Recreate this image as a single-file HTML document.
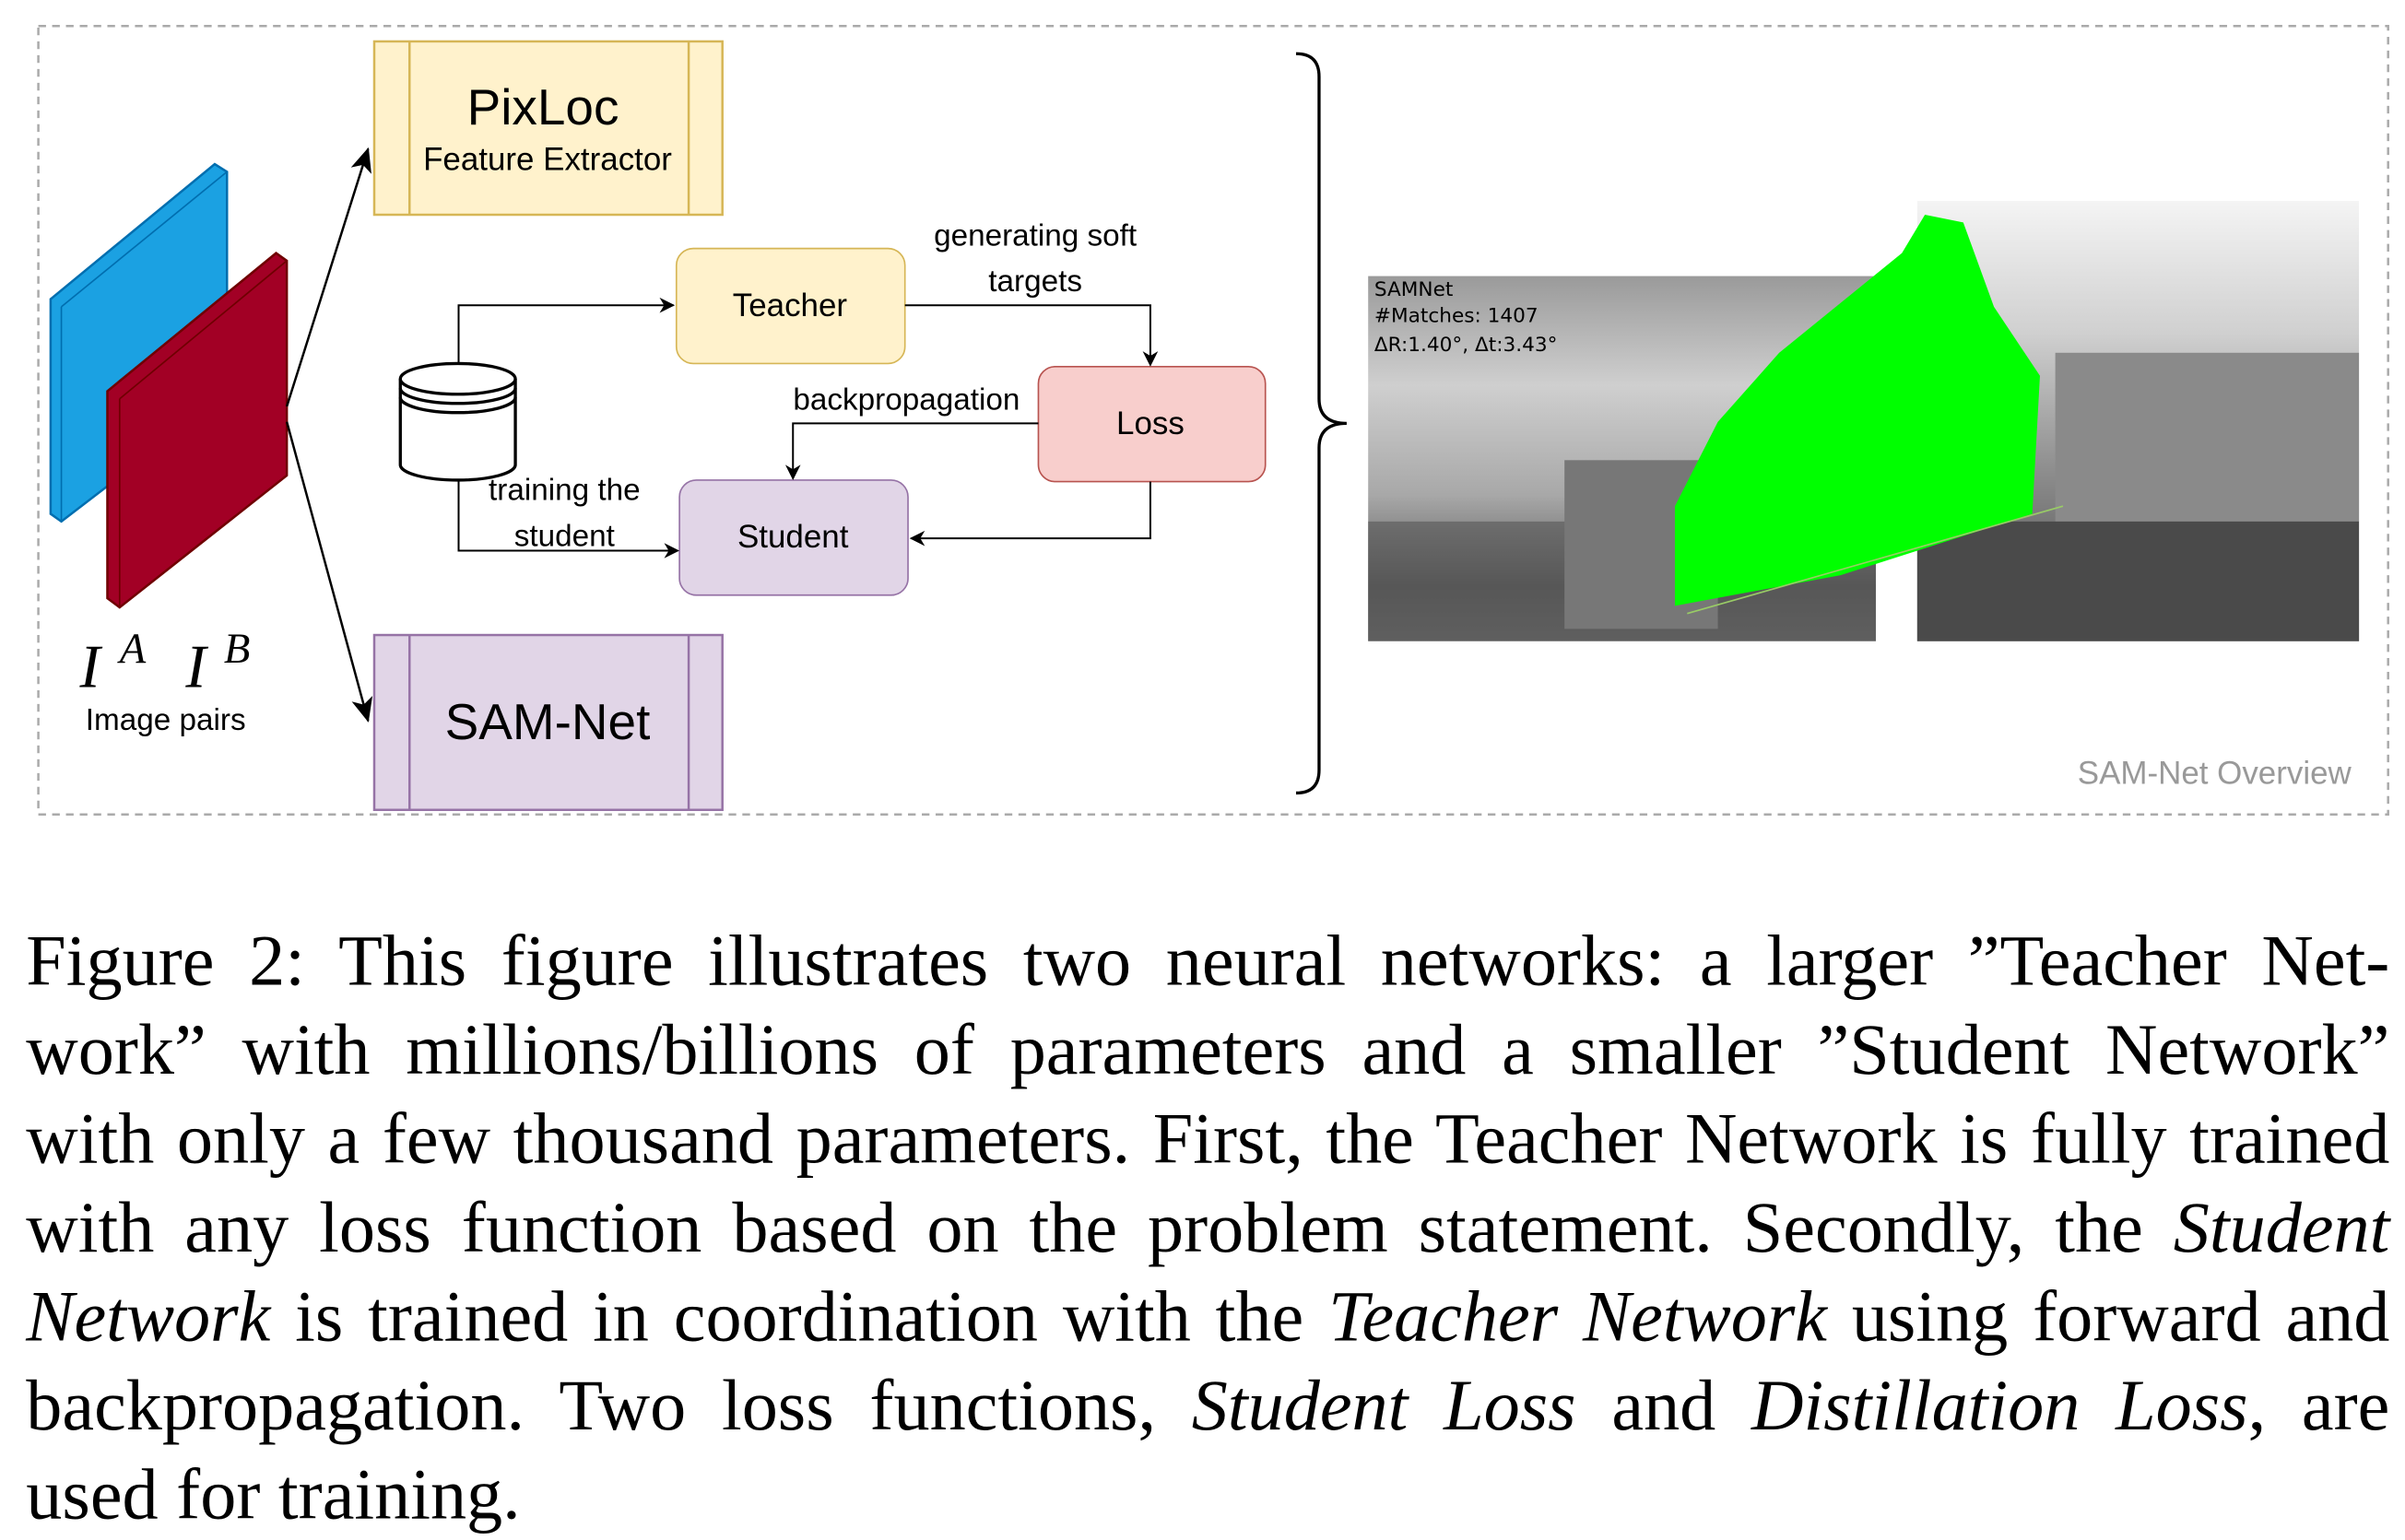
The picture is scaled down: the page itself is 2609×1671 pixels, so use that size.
<!DOCTYPE html>
<html><head><meta charset="utf-8"><style>
html,body{margin:0;padding:0;background:#fff;width:2609px;height:1671px;overflow:hidden}
#w{position:absolute;left:0;top:0;width:1568px;height:1004px;transform:scale(1.66390,1.66434);transform-origin:0 0}
.cap{position:absolute;left:17px;width:1541px;font-family:"Liberation Serif",serif;font-size:47px;line-height:58px;color:#000}
.ln{display:block;text-align:justify;text-align-last:justify;white-space:nowrap;height:58px}
</style></head><body><div id="w">
<svg width="1568" height="560" viewBox="0 0 1568 560" style="position:absolute;left:0;top:0" font-family="Liberation Sans, sans-serif">
<defs>
<marker id="a" markerWidth="10" markerHeight="10" refX="9" refY="5" orient="auto" markerUnits="userSpaceOnUse"><path d="M0,0 L10,5 L0,10 L3,5z" fill="#000"/></marker>
<marker id="b" markerWidth="16" markerHeight="14" refX="15" refY="7" orient="auto" markerUnits="userSpaceOnUse"><path d="M0,0 L16,7 L0,14 L4,7z" fill="#000"/></marker>
<linearGradient id="sky" x1="0" y1="0" x2="0" y2="1"><stop offset="0" stop-color="#9a9a9a"/><stop offset="0.3" stop-color="#cfcfcf"/><stop offset="0.6" stop-color="#a8a8a8"/><stop offset="0.85" stop-color="#5a5a5a"/><stop offset="1" stop-color="#6e6e6e"/></linearGradient>
<linearGradient id="sky2" x1="0" y1="0" x2="0" y2="1"><stop offset="0" stop-color="#f4f4f4"/><stop offset="0.3" stop-color="#d0d0d0"/><stop offset="0.6" stop-color="#909090"/><stop offset="1" stop-color="#444"/></linearGradient>
</defs>
<rect x="25" y="17" width="1532" height="514" fill="none" stroke="#aaa" stroke-width="1.5" stroke-dasharray="5,4"/>
<polygon points="33,195 140,107 148,112 148,257 40,340 33,335" fill="#1ba1e2" stroke="#006eaf" stroke-width="1.5"/>
<line x1="40" y1="200" x2="40" y2="340" stroke="#006eaf"/><line x1="40" y1="200" x2="148" y2="112" stroke="#006eaf"/>
<polygon points="70,255 180,165 187,170 187,310 78,396 70,390" fill="#a20025" stroke="#6f0000" stroke-width="1.5"/>
<line x1="78" y1="260" x2="78" y2="396" stroke="#6f0000"/><line x1="78" y1="260" x2="187" y2="170" stroke="#6f0000"/>
<line x1="187" y1="265" x2="240" y2="97" stroke="#000" stroke-width="1.5" marker-end="url(#b)"/>
<line x1="187" y1="275" x2="240" y2="470" stroke="#000" stroke-width="1.5" marker-end="url(#b)"/>
<text x="52" y="448" font-family="Liberation Serif, serif" font-style="italic" font-size="40">I</text>
<text x="78" y="432" font-family="Liberation Serif, serif" font-style="italic" font-size="28">A</text>
<text x="121" y="448" font-family="Liberation Serif, serif" font-style="italic" font-size="40">I</text>
<text x="146" y="432" font-family="Liberation Serif, serif" font-style="italic" font-size="28">B</text>
<text x="108" y="476" font-size="20" text-anchor="middle">Image pairs</text>
<rect x="244" y="27" width="227" height="113" fill="#fff2cc" stroke="#d6b656" stroke-width="1.5"/>
<line x1="267" y1="27" x2="267" y2="140" stroke="#d6b656" stroke-width="1.5"/><line x1="449" y1="27" x2="449" y2="140" stroke="#d6b656" stroke-width="1.5"/>
<text x="354" y="81" font-size="33" text-anchor="middle">PixLoc</text>
<text x="357" y="111" font-size="21" text-anchor="middle">Feature Extractor</text>
<rect x="244" y="414" width="227" height="114" fill="#e1d5e7" stroke="#9673a6" stroke-width="1.5"/>
<line x1="267" y1="414" x2="267" y2="528" stroke="#9673a6" stroke-width="1.5"/><line x1="449" y1="414" x2="449" y2="528" stroke="#9673a6" stroke-width="1.5"/>
<text x="357" y="482" font-size="33" text-anchor="middle">SAM-Net</text>
<rect x="441" y="162" width="149" height="75" rx="11" fill="#fff2cc" stroke="#d6b656"/>
<text x="515" y="206" font-size="21" text-anchor="middle">Teacher</text>
<rect x="677" y="239" width="148" height="75" rx="11" fill="#f8cecc" stroke="#b85450"/>
<text x="750" y="283" font-size="21" text-anchor="middle">Loss</text>
<rect x="443" y="313" width="149" height="75" rx="11" fill="#e1d5e7" stroke="#9673a6"/>
<text x="517" y="357" font-size="21" text-anchor="middle">Student</text>
<path d="M261,247 v56 a37.5,10 0 0 0 75,0 v-56" fill="#fff" stroke="#000" stroke-width="2"/>
<ellipse cx="298.5" cy="247" rx="37.5" ry="10" fill="#fff" stroke="#000" stroke-width="2"/>
<path d="M261,253 a37.5,10 0 0 0 75,0 M261,259 a37.5,10 0 0 0 75,0" fill="none" stroke="#000" stroke-width="2"/>
<polyline points="299,237 299,199 439,199" fill="none" stroke="#000" stroke-width="1.2" marker-end="url(#a)"/>
<polyline points="590,199 750,199 750,238" fill="none" stroke="#000" stroke-width="1.2" marker-end="url(#a)"/>
<polyline points="677,276 517,276 517,312" fill="none" stroke="#000" stroke-width="1.2" marker-end="url(#a)"/>
<polyline points="750,314 750,351 594,351" fill="none" stroke="#000" stroke-width="1.2" marker-end="url(#a)"/>
<polyline points="299,313 299,359 442,359" fill="none" stroke="#000" stroke-width="1.2" marker-end="url(#a)"/>
<text x="675" y="160" font-size="20" text-anchor="middle">generating soft</text>
<text x="675" y="190" font-size="20" text-anchor="middle">targets</text>
<text x="591" y="267" font-size="20" text-anchor="middle">backpropagation</text>
<text x="368" y="326" font-size="20" text-anchor="middle">training the</text>
<text x="368" y="356" font-size="20" text-anchor="middle">student</text>
<path d="M845,35 q15,0 15,15 v210 q0,16 18,16 q-18,0 -18,16 v210 q0,15 -15,15" fill="none" stroke="#000" stroke-width="2"/>
<rect x="892" y="180" width="331" height="238" fill="url(#sky)"/>
<rect x="892" y="340" width="331" height="78" fill="#555" opacity="0.6"/>
<rect x="1020" y="300" width="100" height="110" fill="#777"/>
<rect x="1250" y="131" width="288" height="287" fill="url(#sky2)"/>
<rect x="1340" y="230" width="198" height="110" fill="#8a8a8a"/>
<rect x="1250" y="340" width="288" height="78" fill="#4a4a4a"/>
<polygon points="1092,330 1092,395 1200,375 1325,335 1330,245 1300,200 1280,145 1255,140 1240,165 1160,230 1120,275" fill="#00ff00"/>
<line x1="1100" y1="400" x2="1345" y2="330" stroke="#9c6" stroke-width="1"/>
<text x="896" y="193" font-family="DejaVu Sans, sans-serif" font-size="13">SAMNet</text>
<text x="896" y="210" font-family="DejaVu Sans, sans-serif" font-size="13">#Matches: 1407</text>
<text x="896" y="229" font-family="DejaVu Sans, sans-serif" font-size="13">ΔR:1.40°,  Δt:3.43°</text>
<text x="1533" y="511" font-size="21" fill="#999" text-anchor="end">SAM-Net Overview</text>
</svg>
<div class="cap" style="top:598px">
<span class="ln">Figure 2: This figure illustrates two neural networks: a larger ”Teacher Net-</span>
<span class="ln">work” with millions/billions of parameters and a smaller ”Student Network”</span>
<span class="ln">with only a few thousand parameters. First, the Teacher Network is fully trained</span>
<span class="ln">with any loss function based on the problem statement. Secondly, the <i>Student</i></span>
<span class="ln"><i>Network</i> is trained in coordination with the <i>Teacher Network</i> using forward and</span>
<span class="ln">backpropagation. Two loss functions, <i>Student Loss</i> and <i>Distillation Loss</i>, are</span>
<span class="ln" style="text-align-last:left">used for training.</span>
</div>
</div></body></html>
